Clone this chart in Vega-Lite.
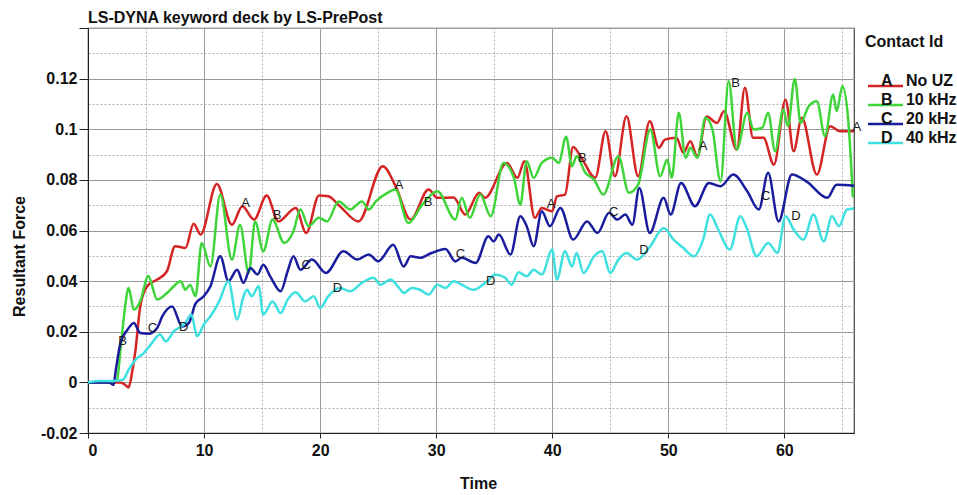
{
  "$schema": "https://vega.github.io/schema/vega-lite/v6.json",
  "width": 766,
  "height": 405,
  "autosize": {"type": "none"},
  "padding": {"left": 88, "top": 28, "right": 103, "bottom": 62},
  "background": "white",
  "title": {"text": "LS-DYNA keyword deck by LS-PrePost", "anchor": "start", "frame": "group", "baseline": "alphabetic", "offset": 6, "dy": 17, "font": "Liberation Sans", "fontSize": 16, "fontWeight": "bold", "color": "#111"},
  "config": {
    "font": "Liberation Sans",
    "view": {"stroke": "#444", "strokeWidth": 1.2},
    "axis": {"labelFont": "Liberation Sans", "titleFont": "Liberation Sans"}
  },
  "datasets": {
    "curves": [
      {"t":0,"v":0,"s":"No UZ"},{"t":1,"v":0,"s":"No UZ"},{"t":2,"v":0,"s":"No UZ"},{"t":2.8,"v":0,"s":"No UZ"},{"t":3.2,"v":-0.001,"s":"No UZ"},{"t":3.5,"v":-0.002,"s":"No UZ"},{"t":3.8,"v":0.004,"s":"No UZ"},{"t":4.1,"v":0.013,"s":"No UZ"},{"t":4.5,"v":0.030,"s":"No UZ"},{"t":5.1,"v":0.038,"s":"No UZ"},{"t":5.96,"v":0.0406,"s":"No UZ"},{"t":6.8,"v":0.0439,"s":"No UZ"},{"t":7.5,"v":0.0538,"s":"No UZ"},{"t":8.4,"v":0.0531,"s":"No UZ"},{"t":9.1,"v":0.0627,"s":"No UZ"},{"t":9.7,"v":0.0584,"s":"No UZ"},{"t":11.1,"v":0.0784,"s":"No UZ"},{"t":12.4,"v":0.0623,"s":"No UZ"},{"t":13.3,"v":0.0696,"s":"No UZ"},{"t":14.3,"v":0.0643,"s":"No UZ"},{"t":15.4,"v":0.0738,"s":"No UZ"},{"t":16.4,"v":0.0636,"s":"No UZ"},{"t":17.9,"v":0.0689,"s":"No UZ"},{"t":18.8,"v":0.059,"s":"No UZ"},{"t":19.9,"v":0.0738,"s":"No UZ"},{"t":20.7,"v":0.0735,"s":"No UZ"},{"t":21.7,"v":0.0696,"s":"No UZ"},{"t":23.3,"v":0.0636,"s":"No UZ"},{"t":25.4,"v":0.0854,"s":"No UZ"},{"t":26.5,"v":0.0775,"s":"No UZ"},{"t":27.8,"v":0.0643,"s":"No UZ"},{"t":29.35,"v":0.0762,"s":"No UZ"},{"t":30.1,"v":0.0729,"s":"No UZ"},{"t":31.5,"v":0.073,"s":"No UZ"},{"t":32.5,"v":0.0663,"s":"No UZ"},{"t":33.7,"v":0.0749,"s":"No UZ"},{"t":34.2,"v":0.0729,"s":"No UZ"},{"t":36.1,"v":0.0867,"s":"No UZ"},{"t":37.0,"v":0.0808,"s":"No UZ"},{"t":37.6,"v":0.0874,"s":"No UZ"},{"t":38.5,"v":0.065,"s":"No UZ"},{"t":39.1,"v":0.0689,"s":"No UZ"},{"t":40.0,"v":0.0676,"s":"No UZ"},{"t":40.4,"v":0.0735,"s":"No UZ"},{"t":41.1,"v":0.0742,"s":"No UZ"},{"t":41.8,"v":0.093,"s":"No UZ"},{"t":42.6,"v":0.088,"s":"No UZ"},{"t":43.7,"v":0.0808,"s":"No UZ"},{"t":44.6,"v":0.0992,"s":"No UZ"},{"t":45.4,"v":0.0814,"s":"No UZ"},{"t":46.4,"v":0.1051,"s":"No UZ"},{"t":47.4,"v":0.0814,"s":"No UZ"},{"t":48.4,"v":0.1032,"s":"No UZ"},{"t":49.2,"v":0.0927,"s":"No UZ"},{"t":49.7,"v":0.0959,"s":"No UZ"},{"t":50.7,"v":0.0966,"s":"No UZ"},{"t":51.3,"v":0.0907,"s":"No UZ"},{"t":51.9,"v":0.0953,"s":"No UZ"},{"t":52.5,"v":0.0893,"s":"No UZ"},{"t":53.3,"v":0.105,"s":"No UZ"},{"t":54.2,"v":0.1025,"s":"No UZ"},{"t":54.8,"v":0.1071,"s":"No UZ"},{"t":55.9,"v":0.092,"s":"No UZ"},{"t":56.6,"v":0.1164,"s":"No UZ"},{"t":57.3,"v":0.0966,"s":"No UZ"},{"t":58.2,"v":0.0966,"s":"No UZ"},{"t":59.1,"v":0.086,"s":"No UZ"},{"t":60.1,"v":0.1117,"s":"No UZ"},{"t":60.8,"v":0.0913,"s":"No UZ"},{"t":61.5,"v":0.1045,"s":"No UZ"},{"t":62.8,"v":0.0821,"s":"No UZ"},{"t":63.95,"v":0.1012,"s":"No UZ"},{"t":64.8,"v":0.0992,"s":"No UZ"},{"t":66,"v":0.0992,"s":"No UZ"},

      {"t":0,"v":0,"s":"10 kHz"},{"t":1,"v":0,"s":"10 kHz"},{"t":2,"v":0,"s":"10 kHz"},{"t":2.5,"v":0.001,"s":"10 kHz"},{"t":2.8,"v":0.0129,"s":"10 kHz"},{"t":3.2,"v":0.030,"s":"10 kHz"},{"t":3.5,"v":0.0373,"s":"10 kHz"},{"t":3.95,"v":0.0287,"s":"10 kHz"},{"t":4.5,"v":0.032,"s":"10 kHz"},{"t":5.2,"v":0.042,"s":"10 kHz"},{"t":5.96,"v":0.0327,"s":"10 kHz"},{"t":6.8,"v":0.0353,"s":"10 kHz"},{"t":7.4,"v":0.038,"s":"10 kHz"},{"t":7.97,"v":0.040,"s":"10 kHz"},{"t":8.4,"v":0.0366,"s":"10 kHz"},{"t":8.8,"v":0.0386,"s":"10 kHz"},{"t":9.26,"v":0.034,"s":"10 kHz"},{"t":9.8,"v":0.0551,"s":"10 kHz"},{"t":10.55,"v":0.0458,"s":"10 kHz"},{"t":11.4,"v":0.0742,"s":"10 kHz"},{"t":12.4,"v":0.0485,"s":"10 kHz"},{"t":13.1,"v":0.0623,"s":"10 kHz"},{"t":13.85,"v":0.0432,"s":"10 kHz"},{"t":14.4,"v":0.0636,"s":"10 kHz"},{"t":15.1,"v":0.0518,"s":"10 kHz"},{"t":15.9,"v":0.0643,"s":"10 kHz"},{"t":16.9,"v":0.0551,"s":"10 kHz"},{"t":17.7,"v":0.0597,"s":"10 kHz"},{"t":18.3,"v":0.0683,"s":"10 kHz"},{"t":19.0,"v":0.0617,"s":"10 kHz"},{"t":19.9,"v":0.065,"s":"10 kHz"},{"t":20.6,"v":0.0636,"s":"10 kHz"},{"t":21.6,"v":0.0715,"s":"10 kHz"},{"t":22.6,"v":0.0683,"s":"10 kHz"},{"t":23.6,"v":0.0715,"s":"10 kHz"},{"t":24.2,"v":0.0683,"s":"10 kHz"},{"t":24.8,"v":0.0715,"s":"10 kHz"},{"t":25.8,"v":0.0749,"s":"10 kHz"},{"t":26.5,"v":0.0762,"s":"10 kHz"},{"t":27.6,"v":0.063,"s":"10 kHz"},{"t":28.8,"v":0.0702,"s":"10 kHz"},{"t":30.1,"v":0.0755,"s":"10 kHz"},{"t":31.65,"v":0.0643,"s":"10 kHz"},{"t":32.2,"v":0.0729,"s":"10 kHz"},{"t":32.9,"v":0.065,"s":"10 kHz"},{"t":33.8,"v":0.0742,"s":"10 kHz"},{"t":34.7,"v":0.0656,"s":"10 kHz"},{"t":35.8,"v":0.0867,"s":"10 kHz"},{"t":36.7,"v":0.0808,"s":"10 kHz"},{"t":37.25,"v":0.0702,"s":"10 kHz"},{"t":37.8,"v":0.0874,"s":"10 kHz"},{"t":38.4,"v":0.0808,"s":"10 kHz"},{"t":39.1,"v":0.0867,"s":"10 kHz"},{"t":40.0,"v":0.0887,"s":"10 kHz"},{"t":40.55,"v":0.0867,"s":"10 kHz"},{"t":41.2,"v":0.097,"s":"10 kHz"},{"t":41.7,"v":0.0854,"s":"10 kHz"},{"t":42.1,"v":0.0893,"s":"10 kHz"},{"t":42.85,"v":0.0828,"s":"10 kHz"},{"t":43.6,"v":0.0801,"s":"10 kHz"},{"t":44.4,"v":0.0742,"s":"10 kHz"},{"t":45.7,"v":0.0893,"s":"10 kHz"},{"t":46.6,"v":0.0749,"s":"10 kHz"},{"t":47.4,"v":0.0781,"s":"10 kHz"},{"t":48.45,"v":0.0999,"s":"10 kHz"},{"t":49.3,"v":0.0814,"s":"10 kHz"},{"t":49.9,"v":0.088,"s":"10 kHz"},{"t":50.3,"v":0.0808,"s":"10 kHz"},{"t":50.9,"v":0.1065,"s":"10 kHz"},{"t":51.5,"v":0.0887,"s":"10 kHz"},{"t":51.9,"v":0.0927,"s":"10 kHz"},{"t":52.5,"v":0.0887,"s":"10 kHz"},{"t":53.2,"v":0.1045,"s":"10 kHz"},{"t":53.8,"v":0.0999,"s":"10 kHz"},{"t":54.5,"v":0.0794,"s":"10 kHz"},{"t":55.2,"v":0.119,"s":"10 kHz"},{"t":55.9,"v":0.092,"s":"10 kHz"},{"t":56.8,"v":0.1065,"s":"10 kHz"},{"t":57.35,"v":0.0999,"s":"10 kHz"},{"t":58.1,"v":0.1006,"s":"10 kHz"},{"t":58.6,"v":0.1065,"s":"10 kHz"},{"t":59.2,"v":0.0913,"s":"10 kHz"},{"t":59.9,"v":0.1078,"s":"10 kHz"},{"t":60.3,"v":0.1012,"s":"10 kHz"},{"t":60.9,"v":0.1199,"s":"10 kHz"},{"t":61.4,"v":0.1025,"s":"10 kHz"},{"t":62.1,"v":0.1091,"s":"10 kHz"},{"t":62.8,"v":0.1111,"s":"10 kHz"},{"t":63.5,"v":0.0972,"s":"10 kHz"},{"t":64.2,"v":0.1137,"s":"10 kHz"},{"t":64.5,"v":0.1071,"s":"10 kHz"},{"t":65.0,"v":0.117,"s":"10 kHz"},{"t":65.5,"v":0.1038,"s":"10 kHz"},{"t":65.9,"v":0.0735,"s":"10 kHz"},

      {"t":0,"v":0,"s":"20 kHz"},{"t":1,"v":0,"s":"20 kHz"},{"t":1.8,"v":0,"s":"20 kHz"},{"t":2.2,"v":-0.001,"s":"20 kHz"},{"t":2.4,"v":0.005,"s":"20 kHz"},{"t":2.8,"v":0.0156,"s":"20 kHz"},{"t":3.4,"v":0.0208,"s":"20 kHz"},{"t":3.95,"v":0.0235,"s":"20 kHz"},{"t":4.5,"v":0.0195,"s":"20 kHz"},{"t":5.2,"v":0.0192,"s":"20 kHz"},{"t":5.96,"v":0.0215,"s":"20 kHz"},{"t":6.4,"v":0.0261,"s":"20 kHz"},{"t":7.25,"v":0.030,"s":"20 kHz"},{"t":8.1,"v":0.0221,"s":"20 kHz"},{"t":8.7,"v":0.0235,"s":"20 kHz"},{"t":9.26,"v":0.0311,"s":"20 kHz"},{"t":9.97,"v":0.034,"s":"20 kHz"},{"t":10.55,"v":0.038,"s":"20 kHz"},{"t":11.4,"v":0.0498,"s":"20 kHz"},{"t":12.1,"v":0.040,"s":"20 kHz"},{"t":12.85,"v":0.0445,"s":"20 kHz"},{"t":13.4,"v":0.0393,"s":"20 kHz"},{"t":14.0,"v":0.0452,"s":"20 kHz"},{"t":14.6,"v":0.0426,"s":"20 kHz"},{"t":15.1,"v":0.0465,"s":"20 kHz"},{"t":15.7,"v":0.0419,"s":"20 kHz"},{"t":16.6,"v":0.036,"s":"20 kHz"},{"t":17.2,"v":0.0439,"s":"20 kHz"},{"t":17.7,"v":0.0498,"s":"20 kHz"},{"t":18.3,"v":0.0445,"s":"20 kHz"},{"t":19.3,"v":0.0485,"s":"20 kHz"},{"t":20.5,"v":0.0432,"s":"20 kHz"},{"t":22.0,"v":0.0518,"s":"20 kHz"},{"t":23.2,"v":0.0485,"s":"20 kHz"},{"t":24.2,"v":0.0505,"s":"20 kHz"},{"t":25.0,"v":0.0478,"s":"20 kHz"},{"t":26.3,"v":0.0544,"s":"20 kHz"},{"t":27.2,"v":0.0458,"s":"20 kHz"},{"t":27.8,"v":0.0498,"s":"20 kHz"},{"t":28.6,"v":0.0492,"s":"20 kHz"},{"t":29.6,"v":0.0511,"s":"20 kHz"},{"t":30.8,"v":0.0527,"s":"20 kHz"},{"t":31.65,"v":0.0478,"s":"20 kHz"},{"t":32.2,"v":0.0492,"s":"20 kHz"},{"t":33.4,"v":0.0472,"s":"20 kHz"},{"t":34.5,"v":0.0577,"s":"20 kHz"},{"t":34.95,"v":0.0557,"s":"20 kHz"},{"t":35.4,"v":0.0584,"s":"20 kHz"},{"t":36.4,"v":0.0505,"s":"20 kHz"},{"t":37.25,"v":0.0656,"s":"20 kHz"},{"t":37.8,"v":0.0617,"s":"20 kHz"},{"t":38.4,"v":0.0538,"s":"20 kHz"},{"t":39.1,"v":0.0676,"s":"20 kHz"},{"t":39.8,"v":0.0617,"s":"20 kHz"},{"t":40.7,"v":0.0689,"s":"20 kHz"},{"t":41.8,"v":0.0564,"s":"20 kHz"},{"t":43.0,"v":0.0636,"s":"20 kHz"},{"t":43.9,"v":0.059,"s":"20 kHz"},{"t":44.9,"v":0.067,"s":"20 kHz"},{"t":45.6,"v":0.0643,"s":"20 kHz"},{"t":46.3,"v":0.0663,"s":"20 kHz"},{"t":46.9,"v":0.0623,"s":"20 kHz"},{"t":47.5,"v":0.0768,"s":"20 kHz"},{"t":48.4,"v":0.059,"s":"20 kHz"},{"t":49.6,"v":0.0729,"s":"20 kHz"},{"t":50.2,"v":0.0663,"s":"20 kHz"},{"t":51.1,"v":0.0788,"s":"20 kHz"},{"t":52.3,"v":0.0696,"s":"20 kHz"},{"t":53.5,"v":0.0788,"s":"20 kHz"},{"t":54.5,"v":0.0775,"s":"20 kHz"},{"t":55.6,"v":0.0821,"s":"20 kHz"},{"t":56.8,"v":0.0755,"s":"20 kHz"},{"t":57.8,"v":0.0683,"s":"20 kHz"},{"t":58.6,"v":0.0828,"s":"20 kHz"},{"t":59.5,"v":0.0636,"s":"20 kHz"},{"t":60.65,"v":0.0821,"s":"20 kHz"},{"t":61.9,"v":0.0794,"s":"20 kHz"},{"t":63.7,"v":0.0729,"s":"20 kHz"},{"t":64.5,"v":0.0781,"s":"20 kHz"},{"t":66,"v":0.0777,"s":"20 kHz"},

      {"t":0,"v":0,"s":"40 kHz"},{"t":1,"v":0.0005,"s":"40 kHz"},{"t":2,"v":0.0005,"s":"40 kHz"},{"t":3.0,"v":0.001,"s":"40 kHz"},{"t":3.5,"v":0.005,"s":"40 kHz"},{"t":4.1,"v":0.009,"s":"40 kHz"},{"t":4.8,"v":0.0116,"s":"40 kHz"},{"t":5.4,"v":0.0149,"s":"40 kHz"},{"t":6.2,"v":0.0189,"s":"40 kHz"},{"t":6.7,"v":0.0162,"s":"40 kHz"},{"t":7.4,"v":0.0202,"s":"40 kHz"},{"t":8.4,"v":0.0235,"s":"40 kHz"},{"t":8.9,"v":0.0268,"s":"40 kHz"},{"t":9.4,"v":0.0182,"s":"40 kHz"},{"t":9.97,"v":0.0228,"s":"40 kHz"},{"t":10.55,"v":0.0261,"s":"40 kHz"},{"t":11.3,"v":0.032,"s":"40 kHz"},{"t":12.1,"v":0.040,"s":"40 kHz"},{"t":12.85,"v":0.0248,"s":"40 kHz"},{"t":13.4,"v":0.034,"s":"40 kHz"},{"t":13.7,"v":0.0366,"s":"40 kHz"},{"t":14.1,"v":0.034,"s":"40 kHz"},{"t":14.7,"v":0.038,"s":"40 kHz"},{"t":15.1,"v":0.0268,"s":"40 kHz"},{"t":15.9,"v":0.032,"s":"40 kHz"},{"t":16.6,"v":0.0274,"s":"40 kHz"},{"t":17.2,"v":0.0327,"s":"40 kHz"},{"t":17.9,"v":0.0356,"s":"40 kHz"},{"t":18.7,"v":0.032,"s":"40 kHz"},{"t":19.45,"v":0.034,"s":"40 kHz"},{"t":20.0,"v":0.0294,"s":"40 kHz"},{"t":20.7,"v":0.034,"s":"40 kHz"},{"t":21.7,"v":0.0373,"s":"40 kHz"},{"t":22.6,"v":0.036,"s":"40 kHz"},{"t":23.6,"v":0.0393,"s":"40 kHz"},{"t":24.6,"v":0.0413,"s":"40 kHz"},{"t":25.2,"v":0.0386,"s":"40 kHz"},{"t":26.05,"v":0.0406,"s":"40 kHz"},{"t":26.8,"v":0.0373,"s":"40 kHz"},{"t":27.2,"v":0.0353,"s":"40 kHz"},{"t":27.9,"v":0.0373,"s":"40 kHz"},{"t":28.6,"v":0.0366,"s":"40 kHz"},{"t":29.35,"v":0.0347,"s":"40 kHz"},{"t":30.1,"v":0.0386,"s":"40 kHz"},{"t":30.8,"v":0.0373,"s":"40 kHz"},{"t":31.5,"v":0.040,"s":"40 kHz"},{"t":32.2,"v":0.0386,"s":"40 kHz"},{"t":33.2,"v":0.0366,"s":"40 kHz"},{"t":34.4,"v":0.040,"s":"40 kHz"},{"t":35.1,"v":0.0426,"s":"40 kHz"},{"t":35.95,"v":0.0413,"s":"40 kHz"},{"t":36.5,"v":0.0386,"s":"40 kHz"},{"t":37.1,"v":0.0435,"s":"40 kHz"},{"t":37.8,"v":0.0419,"s":"40 kHz"},{"t":38.4,"v":0.0445,"s":"40 kHz"},{"t":39.1,"v":0.0426,"s":"40 kHz"},{"t":40.0,"v":0.0525,"s":"40 kHz"},{"t":40.4,"v":0.0406,"s":"40 kHz"},{"t":41.1,"v":0.0518,"s":"40 kHz"},{"t":41.7,"v":0.0458,"s":"40 kHz"},{"t":42.1,"v":0.0511,"s":"40 kHz"},{"t":42.7,"v":0.0432,"s":"40 kHz"},{"t":43.6,"v":0.0498,"s":"40 kHz"},{"t":44.3,"v":0.0518,"s":"40 kHz"},{"t":45.0,"v":0.0432,"s":"40 kHz"},{"t":45.7,"v":0.0485,"s":"40 kHz"},{"t":46.4,"v":0.0511,"s":"40 kHz"},{"t":47.3,"v":0.0485,"s":"40 kHz"},{"t":48.45,"v":0.0538,"s":"40 kHz"},{"t":49.6,"v":0.061,"s":"40 kHz"},{"t":50.45,"v":0.0564,"s":"40 kHz"},{"t":51.3,"v":0.0531,"s":"40 kHz"},{"t":52.2,"v":0.0498,"s":"40 kHz"},{"t":53.0,"v":0.0564,"s":"40 kHz"},{"t":53.6,"v":0.0663,"s":"40 kHz"},{"t":54.3,"v":0.0604,"s":"40 kHz"},{"t":55.3,"v":0.0525,"s":"40 kHz"},{"t":56.2,"v":0.0656,"s":"40 kHz"},{"t":56.8,"v":0.0604,"s":"40 kHz"},{"t":57.6,"v":0.0498,"s":"40 kHz"},{"t":58.6,"v":0.0551,"s":"40 kHz"},{"t":59.4,"v":0.0511,"s":"40 kHz"},{"t":60.1,"v":0.0656,"s":"40 kHz"},{"t":60.8,"v":0.0604,"s":"40 kHz"},{"t":61.65,"v":0.0564,"s":"40 kHz"},{"t":62.5,"v":0.0663,"s":"40 kHz"},{"t":63.4,"v":0.0557,"s":"40 kHz"},{"t":64.1,"v":0.0656,"s":"40 kHz"},{"t":64.7,"v":0.0617,"s":"40 kHz"},{"t":65.4,"v":0.0683,"s":"40 kHz"},{"t":66,"v":0.0687,"s":"40 kHz"}
    ],
    "letters": [
      {"t":13.57,"v":0.0710,"k":"A"},{"t":26.8,"v":0.0778,"k":"A"},{"t":39.9,"v":0.0704,"k":"A"},{"t":53.0,"v":0.0935,"k":"A"},{"t":66.25,"v":0.1008,"k":"A"},
      {"t":2.97,"v":0.0162,"k":"B"},{"t":16.3,"v":0.0663,"k":"B"},{"t":29.3,"v":0.0711,"k":"B"},{"t":42.6,"v":0.0885,"k":"B"},{"t":55.8,"v":0.1183,"k":"B"},
      {"t":5.56,"v":0.0215,"k":"C"},{"t":18.8,"v":0.0465,"k":"C"},{"t":32.1,"v":0.0508,"k":"C"},{"t":45.3,"v":0.0672,"k":"C"},{"t":58.4,"v":0.0735,"k":"C"},
      {"t":8.24,"v":0.0219,"k":"D"},{"t":21.5,"v":0.0373,"k":"D"},{"t":34.7,"v":0.0399,"k":"D"},{"t":47.9,"v":0.0521,"k":"D"},{"t":61.0,"v":0.0657,"k":"D"}
    ]
  },
  "layer": [
    {
      "data": {"name": "curves"},
      "mark": {"type": "line", "interpolate": "monotone", "strokeWidth": 2.5, "strokeJoin": "round", "strokeCap": "round", "clip": true},
      "encoding": {
        "x": {"field": "t", "type": "quantitative",
          "scale": {"domain": [0, 66], "nice": false, "zero": false},
          "axis": {"orient": "bottom", "values": [0,10,20,30,40,50,60], "title": "Time",
            "titleFontSize": 16, "titleFontWeight": "bold", "titleColor": "#111",
            "titleX": 390, "titleY": 55, "titleBaseline": "alphabetic", "titleAlign": "center",
            "labelFontSize": 16, "labelFontWeight": "bold", "labelColor": "#111", "labelPadding": 4,
            "tickSize": 5, "tickColor": "#222", "domainColor": "#222",
            "grid": true, "gridColor": "#9a9a9a", "gridWidth": 1}},
        "y": {"field": "v", "type": "quantitative",
          "scale": {"domain": [-0.02, 0.14], "nice": false, "zero": false},
          "axis": {"orient": "left", "values": [-0.02,0,0.02,0.04,0.06,0.08,0.1,0.12,0.14], "title": "Resultant Force",
            "labelExpr": "datum.value > 0.13 ? '' : replace(format(datum.value, '.2~f'), '\u2212', '-')",
            "titleFontSize": 16, "titleFontWeight": "bold", "titleColor": "#111",
            "titleX": -64, "titleY": 228, "titleAngle": 270, "titleBaseline": "alphabetic", "titleAlign": "center",
            "labelFontSize": 16, "labelFontWeight": "bold", "labelColor": "#111", "labelPadding": 2,
            "tickSize": 9, "tickColor": "#222", "domainColor": "#222",
            "grid": true, "gridColor": "#9a9a9a", "gridWidth": 1}},
        "color": {"field": "s", "type": "nominal",
          "scale": {"domain": ["No UZ", "10 kHz", "20 kHz", "40 kHz"], "range": ["#d42424", "#3fd43a", "#1a1c9e", "#3ee0e0"]},
          "legend": {"orient": "none", "legendX": 777, "legendY": 6, "title": "Contact Id", "padding": 0,
            "titleFont": "Liberation Sans", "titleFontSize": 16, "titleFontWeight": "bold", "titleColor": "#111", "titlePadding": 28,
            "symbolType": "M-1,0H6", "symbolSize": 100, "symbolStrokeWidth": 2.5, "symbolFillColor": "transparent",
            "labelFont": "Liberation Sans", "labelFontSize": 16, "labelFontWeight": "bold", "labelColor": "#111",
            "labelBaseline": "alphabetic", "labelOffset": 0, "rowPadding": 1,
            "labelExpr": "(datum.label == 'No UZ' ? 'A' : datum.label == '10 kHz' ? 'B' : datum.label == '20 kHz' ? 'C' : 'D') + '\u00a0\u00a0\u00a0' + datum.label"}}
      }
    },
    {
      "data": {"name": "letters"},
      "mark": {"type": "text", "font": "Liberation Sans", "fontSize": 13, "color": "#1a1a1a", "align": "center", "baseline": "middle"},
      "encoding": {
        "x": {"field": "t", "type": "quantitative",
          "axis": {"orient": "top", "values": [5,15,25,35,45,55,65], "title": null, "labels": false, "ticks": false, "domain": false,
            "grid": true, "gridColor": "#b0b0b0", "gridDash": [2, 2], "gridWidth": 1}},
        "y": {"field": "v", "type": "quantitative",
          "axis": {"orient": "right", "values": [-0.01,0.01,0.03,0.05,0.07,0.09,0.11,0.13], "title": null, "labels": false, "ticks": false, "domain": false,
            "grid": true, "gridColor": "#b0b0b0", "gridDash": [2, 2], "gridWidth": 1}},
        "text": {"field": "k", "type": "nominal"}
      }
    }
  ],
  "resolve": {"axis": {"x": "independent", "y": "independent"}}
}
